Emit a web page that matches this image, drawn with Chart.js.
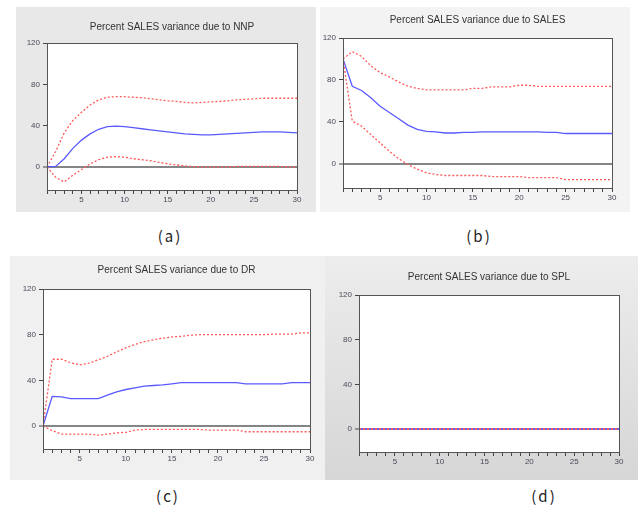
<!DOCTYPE html>
<html>
<head>
<meta charset="utf-8">
<script src="https://cdn.jsdelivr.net/npm/chart.js@4/dist/chart.umd.min.js"></script>
<style>
    body { margin: 0; background: #fff; width: 638px; height: 506px; position: relative; overflow: hidden; }
    .panel { position: absolute; }
    .panel canvas { display: block; }
    .cap { position: absolute; transform: translate(-50%, -50%); font: 15px "Noto Sans CJK SC", "Noto Sans", sans-serif; letter-spacing: 2px; color: #222; white-space: nowrap; }
</style>
</head>
<body>

<div class="panel" style="left:16px;top:7px;background:#e8e8e8;"><canvas id="chartA" width="300" height="205"></canvas></div>
<div class="panel" style="left:320px;top:7px;background:#f3f3f3;"><canvas id="chartB" width="310" height="205"></canvas></div>
<div class="panel" style="left:10px;top:256px;background:#f0f0f0;"><canvas id="chartC" width="315" height="224"></canvas></div>
<div class="panel" style="left:325px;top:256px;background:linear-gradient(#ededed,#d6d6d6);"><canvas id="chartD" width="313" height="224"></canvas></div>

<div class="cap" style="left:170px;top:235px;">(a)</div>
<div class="cap" style="left:479px;top:235px;">(b)</div>
<div class="cap" style="left:168px;top:495px;">(c)</div>
<div class="cap" style="left:544px;top:495px;">(d)</div>

<script>
const periods = [1, 2, 3, 4, 5, 6, 7, 8, 9, 10, 11, 12, 13, 14, 15, 16, 17, 18, 19, 20, 21, 22, 23, 24, 25, 26, 27, 28, 29, 30];
const yTicks = [0, 40, 80, 120];

// (a) due to NNP
const nnpResp = [0, 0.5, 8, 18, 26, 32, 36.5, 39, 39.5, 39, 38, 37, 36, 35, 34, 33, 32, 31.5, 31, 31, 31.5, 32, 32.5, 33, 33.5, 34, 34, 34, 33.5, 33];
const nnpUpper = [0, 15, 33, 45, 53, 60, 65, 67.5, 68, 68, 67.5, 67, 66, 65, 64, 63.5, 62.5, 62, 62.5, 63, 63.5, 64, 65, 65.5, 66, 66.5, 66.5, 66.5, 66.5, 66.5];
const nnpLower = [0, -10, -14.5, -8, -2.5, 3, 7, 9.5, 10, 9.5, 8, 7, 6, 4.5, 3, 2, 1, 0.3, 0, 0, 0, 0, 0.5, 0.5, 0.5, 0.5, 0.5, 0.5, 0, 0];

// (b) due to SALES
const salesResp = [100, 74, 70, 63, 55, 49, 43, 37, 33, 31, 30.5, 29.5, 29.5, 30, 30, 30.5, 30.5, 30.5, 30.5, 30.5, 30.5, 30.5, 30, 30, 29, 29, 29, 29, 29, 29];
const salesUpper = [100, 107, 102.5, 93.5, 87, 83, 78, 74, 72, 70.5, 70.5, 70.5, 70.5, 70.5, 72, 72, 73.5, 73.5, 73.5, 75, 75, 74, 74, 74, 74, 74, 74, 74, 74, 74];
const salesLower = [100, 41, 36, 28, 20, 12, 5, -0.5, -5, -8.5, -10, -11, -11, -11, -11, -11, -12, -12, -12, -12, -13, -13, -13, -13, -15, -15, -15, -15, -15, -15];

// (c) due to DR
const drResp = [0, 26, 25.5, 24, 24, 24, 24, 27, 30, 32, 33.5, 35, 35.5, 36, 37, 38, 38, 38, 38, 38, 38, 38, 37, 37, 37, 37, 37, 38, 38, 38];
const drUpper = [0, 58.5, 58.5, 55.5, 53.5, 55, 58, 61, 65, 68.5, 71.5, 74, 75.5, 77, 78, 78.5, 79.5, 80, 80, 80, 80, 80, 80, 80, 80, 80.5, 80.5, 80.5, 81.5, 81.5];
const drLower = [0, -4, -7, -7, -7, -7, -8, -7, -6, -5.5, -3.5, -3, -3, -3, -3, -3, -3, -3, -3.5, -3.5, -3.5, -3.5, -5, -5, -5, -5, -5, -5, -5, -5];

// (d) due to SPL
const splResp = [0, 0, 0, 0, 0, 0, 0, 0, 0, 0, 0, 0, 0, 0, 0, 0, 0, 0, 0, 0, 0, 0, 0, 0, 0, 0, 0, 0, 0, 0];
const splUpper = [0, 0, 0, 0, 0, 0, 0, 0, 0, 0, 0, 0, 0, 0, 0, 0, 0, 0, 0, 0, 0, 0, 0, 0, 0, 0, 0, 0, 0, 0];
const splLower = [0, 0, 0, 0, 0, 0, 0, 0, 0, 0, 0, 0, 0, 0, 0, 0, 0, 0, 0, 0, 0, 0, 0, 0, 0, 0, 0, 0, 0, 0];

const plotFrame = {
    id: 'plotFrame',
    beforeDraw(chart) {
        const a = chart.chartArea, ctx = chart.ctx;
        ctx.save();
        ctx.fillStyle = '#fff';
        ctx.fillRect(a.left, a.top, a.right - a.left, a.bottom - a.top);
        ctx.restore();
    },
    afterDraw(chart) {
        const a = chart.chartArea, ctx = chart.ctx;
        ctx.save();
        ctx.strokeStyle = '#555';
        ctx.lineWidth = 1;
        ctx.strokeRect(Math.round(a.left) + 0.5, Math.round(a.top) + 0.5, Math.round(a.right - a.left), Math.round(a.bottom - a.top));
        ctx.restore();
    }
};

const pts = arr => arr.map((v, i) => ({ x: periods[i], y: v }));

function makeChart(id, title, resp, upper, lower, g) {
    const tickFont = { family: 'Liberation Sans, Arial, sans-serif', size: 8 };
    const red = { borderColor: '#ff5a5a', borderWidth: 1.3, borderDash: [2, 2], pointRadius: 0, tension: 0 };
    return new Chart(document.getElementById(id), {
        type: 'line',
        data: {
            datasets: [
                Object.assign({ data: pts(upper) }, red),
                Object.assign({ data: pts(lower) }, red),
                { data: pts(resp), borderColor: '#5a5aff', borderWidth: 1.3, pointRadius: 0, tension: 0 }
            ]
        },
        options: {
            responsive: false,
            animation: false,
            devicePixelRatio: 1,
            layout: { padding: { left: 0, right: g.padRight, top: 0, bottom: 0 } },
            plugins: {
                legend: { display: false },
                tooltip: { enabled: false },
                title: {
                    display: true, text: title, fullSize: false, color: '#333',
                    font: { family: 'Liberation Sans, Arial, sans-serif', size: 10, weight: 'normal', lineHeight: 1.2 },
                    padding: { top: g.titleTop, bottom: g.titleBottom }
                }
            },
            scales: {
                x: {
                    type: 'linear', min: 1, max: 30,
                    afterFit: s => { s.height = g.xHeight; },
                    grid: { drawOnChartArea: false, color: '#444', tickLength: 4 },
                    border: { display: true, color: '#555' },
                    ticks: {
                        stepSize: 1, autoSkip: false, maxRotation: 0, padding: 1, color: '#4a4a5a', font: tickFont,
                        callback: v => (v % 5 === 0 ? v : '')
                    }
                },
                y: {
                    min: g.yMin, max: 120,
                    afterFit: s => { s.width = g.yWidth; },
                    afterBuildTicks: s => { s.ticks = yTicks.map(v => ({ value: v })); },
                    grid: {
                        color: c => (c.tick && c.tick.value === 0 ? '#858585' : 'rgba(0,0,0,0)'),
                        lineWidth: c => (c.tick && c.tick.value === 0 ? 2 : 1),
                        tickColor: '#444', tickWidth: 1, tickLength: 4
                    },
                    border: { display: true, color: '#555' },
                    ticks: { padding: 3, color: '#4a4a5a', font: tickFont }
                }
            }
        },
        plugins: [plotFrame]
    });
}

makeChart('chartA', 'Percent SALES variance due to NNP', nnpResp, nnpUpper, nnpLower,
    { yWidth: 31, xHeight: 22, padRight: 19, titleTop: 14, titleBottom: 10, yMin: -22.3 });
makeChart('chartB', 'Percent SALES variance due to SALES', salesResp, salesUpper, salesLower,
    { yWidth: 23, xHeight: 24, padRight: 18, titleTop: 7, titleBottom: 12, yMin: -22.9 });
makeChart('chartC', 'Percent SALES variance due to DR', drResp, drUpper, drLower,
    { yWidth: 33, xHeight: 31, padRight: 15, titleTop: 8, titleBottom: 13, yMin: -20.1 });
makeChart('chartD', 'Percent SALES variance due to SPL', splResp, splUpper, splLower,
    { yWidth: 34, xHeight: 28, padRight: 19, titleTop: 15, titleBottom: 12, yMin: -20.6 });
</script>
</body>
</html>
